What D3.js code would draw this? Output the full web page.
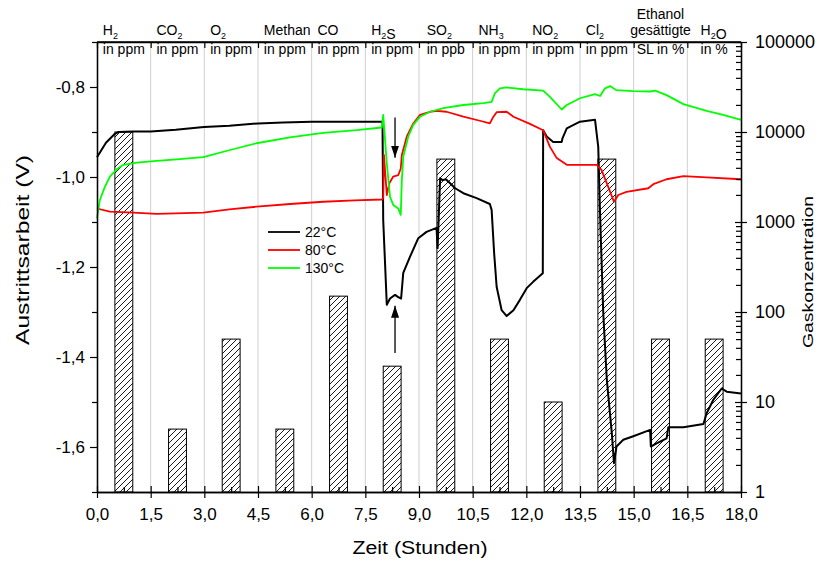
<!DOCTYPE html>
<html>
<head>
<meta charset="utf-8">
<script src="https://cdn.jsdelivr.net/npm/d3@7"></script>
<style>
body{margin:0;background:#fff;}
svg{display:block;font-family:"Liberation Sans",Arial,sans-serif;}
</style>
</head>
<body>
<svg id="chart" width="819" height="562"></svg>
<script>
// gas steps: one 1.5 h window each, the bar marks the exposure
const gasLabels=["H_2","CO_2","O_2","Methan","CO","H_2S","SO_2","NH_3","NO_2","Cl_2","Ethanol|gesättigte","H_2O"];
const gasUnits=["in ppm","in ppm","in ppm","in ppm","in ppm","in ppm","in ppb","in ppm","in ppm","in ppm","SL in %","in %"];
const barStart=[0.5,2,3.5,5,6.5,8,9.5,11,12.5,14,15.5,17];
const barConc=[10000,5,50,5,150,25,5000,50,10,5000,50,50];

const timeTicks=[0,1.5,3,4.5,6,7.5,9,10.5,12,13.5,15,16.5,18];
const voltTicks=[-1.6,-1.4,-1.2,-1.0,-0.8];
const voltMinor=[-1.7,-1.5,-1.3,-1.1,-0.9,-0.7];
const concTicks=[1,10,100,1000,10000,100000];

const seriesNames=["22°C","80°C","130°C"];
const seriesColors=["#000000","#ff0000","#00ff00"];

// [time h, work function V]
const s22=[[0,-0.956],[0.25,-0.924],[0.5,-0.904],[0.6,-0.9],[1.0,-0.899],[1.5,-0.899],[2.2,-0.895],[2.99,-0.889],[3.7,-0.886],[4.5,-0.881],[5.2,-0.879],[6.0,-0.877],[7.07,-0.877],[7.98,-0.877],
[8.0,-1.096],[8.1,-1.284],[8.19,-1.27],[8.33,-1.262],[8.42,-1.267],[8.5,-1.27],[8.56,-1.213],[8.75,-1.177],[8.98,-1.136],[9.21,-1.122],[9.49,-1.113],[9.52,-1.158],
[9.59,-1.003],[9.66,-1.007],[9.75,-1.005],[9.87,-1.014],[10.01,-1.025],[10.24,-1.036],[10.61,-1.047],[10.98,-1.06],[11.03,-1.073],[11.1,-1.169],[11.17,-1.244],[11.31,-1.296],[11.45,-1.309],
[11.64,-1.296],[11.82,-1.273],[12.01,-1.247],[12.19,-1.233],[12.46,-1.214],[12.47,-0.896],[12.57,-0.91],[12.75,-0.922],[12.99,-0.922],[13.01,-0.914],[13.13,-0.892],[13.5,-0.877],[13.92,-0.873],
[14.01,-0.933],[14.06,-1.08],[14.15,-1.302],[14.25,-1.451],[14.39,-1.57],[14.45,-1.636],[14.52,-1.599],[14.71,-1.584],[14.99,-1.576],[15.46,-1.562],[15.48,-1.599],[15.64,-1.592],[15.92,-1.581],
[15.97,-1.556],[16.39,-1.556],[16.95,-1.549],[17.04,-1.525],[17.22,-1.496],[17.46,-1.47],[17.6,-1.477],[18.0,-1.481]];
const s80=[[0,-1.07],[0.36,-1.077],[1.01,-1.079],[1.67,-1.082],[2.97,-1.079],[3.7,-1.072],[4.46,-1.066],[5.4,-1.06],[6.32,-1.055],[7.2,-1.052],[7.96,-1.05],[8.0,-1.047],[8.02,-0.951],[8.1,-1.04],
[8.17,-1.014],[8.28,-0.999],[8.42,-0.996],[8.49,-0.981],[8.52,-0.951],[8.66,-0.91],[8.84,-0.881],[9.03,-0.862],[9.31,-0.855],[9.49,-0.853],[9.77,-0.855],[10.24,-0.866],[10.7,-0.875],[10.98,-0.881],
[11.08,-0.866],[11.17,-0.856],[11.45,-0.855],[11.64,-0.866],[12.1,-0.882],[12.47,-0.896],[12.66,-0.933],[12.85,-0.958],[13.13,-0.973],[13.97,-0.973],[14.1,-0.984],[14.25,-1.014],[14.45,-1.055],
[14.57,-1.04],[14.8,-1.033],[15.41,-1.025],[15.55,-1.016],[15.92,-1.005],[16.39,-0.998],[17.04,-1.001],[18.0,-1.005]];
const s130=[[0,-1.092],[0.08,-1.051],[0.22,-1.022],[0.36,-0.999],[0.55,-0.983],[0.74,-0.973],[1.11,-0.968],[1.67,-0.964],[2.23,-0.961],[2.97,-0.956],[3.72,-0.94],[4.46,-0.925],[5.39,-0.912],
[6.32,-0.902],[7.26,-0.896],[7.96,-0.89],[8.0,-0.862],[8.1,-0.97],[8.19,-1.044],[8.28,-1.062],[8.42,-1.07],[8.49,-1.084],[8.52,-1.007],[8.56,-0.955],[8.7,-0.91],[8.84,-0.884],[9.03,-0.866],
[9.31,-0.855],[9.68,-0.847],[10.24,-0.84],[10.8,-0.836],[11.03,-0.833],[11.12,-0.814],[11.26,-0.803],[11.45,-0.801],[11.91,-0.805],[12.47,-0.808],[12.66,-0.822],[12.99,-0.85],[13.13,-0.84],
[13.5,-0.825],[13.92,-0.816],[14.06,-0.82],[14.2,-0.803],[14.34,-0.798],[14.52,-0.807],[14.99,-0.809],[15.46,-0.81],[15.6,-0.808],[15.92,-0.818],[16.39,-0.838],[17.04,-0.853],[17.5,-0.862],[18.0,-0.873]];

// the two arrows at the H2S step
const arrowTime=[8.33,8.33];
const arrowFrom=[-0.868,-1.391];
const arrowTo=[-0.957,-1.286];

const svg=d3.select("#chart");
const m={top:42,right:78,bottom:70,left:97};
const W=819,H=562;

const x=d3.scaleLinear().domain([0,18]).range([m.left,W-m.right]);
const y=d3.scaleLinear().domain([-1.7,-0.7]).range([H-m.bottom,m.top]);
const yR=d3.scaleLog().domain([1,100000]).range([H-m.bottom,m.top]);

const defs=svg.append("defs");
const pat=defs.append("pattern").attr("id","hatch").attr("patternUnits","userSpaceOnUse")
  .attr("width",6).attr("height",6);
pat.append("rect").attr("width",6).attr("height",6).attr("fill","#fff");
pat.append("path").attr("d","M0,6L6,0M-1.5,1.5L1.5,-1.5M4.5,7.5L7.5,4.5")
  .attr("stroke","#000").attr("stroke-width",0.9);
defs.append("marker").attr("id","head").attr("viewBox","0 0 12 8").attr("refX",12).attr("refY",4)
  .attr("markerWidth",12).attr("markerHeight",8).attr("markerUnits","userSpaceOnUse").attr("orient","auto")
  .append("path").attr("d","M0,0L12,4L0,8Z").attr("fill","#000");

// grid
svg.append("g").selectAll("line").data(timeTicks.slice(1,-1)).join("line")
  .attr("x1",d=>x(d)).attr("x2",d=>x(d)).attr("y1",m.top).attr("y2",H-m.bottom)
  .attr("stroke","#cfcfcf").attr("stroke-width",1);

// bars on log axis
svg.append("g").selectAll("rect").data(barStart).join("rect")
  .attr("x",d=>x(d)).attr("width",d=>x(d+0.5)-x(d))
  .attr("y",(d,i)=>yR(barConc[i])).attr("height",(d,i)=>yR(1)-yR(barConc[i]))
  .attr("fill","url(#hatch)").attr("stroke","#000").attr("stroke-width",1);

// curves
const line=d3.line().x(d=>x(d[0])).y(d=>y(d[1]));
[s22,s80,s130].forEach((s,i)=>{
  svg.append("path").datum(s).attr("d",line).attr("fill","none")
    .attr("stroke",seriesColors[i]).attr("stroke-width",i===0?2:1.8).attr("stroke-linejoin","round");
});

// arrows
svg.append("g").selectAll("line").data(arrowTime).join("line")
  .attr("x1",d=>x(d)).attr("x2",d=>x(d))
  .attr("y1",(d,i)=>y(arrowFrom[i])).attr("y2",(d,i)=>y(arrowTo[i]))
  .attr("stroke","#000").attr("stroke-width",1.3).attr("marker-end","url(#head)");

// axes
const comma=v=>v.toFixed(1).replace(".",",");
function styleAxis(g,fs){
  g.select(".domain").attr("stroke","#000").attr("stroke-width",1.3);
  g.selectAll(".tick line").attr("stroke","#000").attr("stroke-width",1.2);
  g.selectAll("text").attr("font-size",fs||17).attr("font-family","Liberation Sans, Arial, sans-serif").attr("fill","#000");
}
const gx=svg.append("g").attr("transform",`translate(0,${H-m.bottom})`)
  .call(d3.axisBottom(x).tickValues(timeTicks).tickFormat(comma).tickSize(6).tickSizeOuter(0).tickPadding(10));
gx.selectAll(".tick line").attr("y1",-6);
styleAxis(gx);
const gxm=svg.append("g").attr("transform",`translate(0,${H-m.bottom})`)
  .call(d3.axisBottom(x).tickValues(timeTicks.slice(0,-1).map(d=>d+0.75)).tickFormat("").tickSize(-5).tickSizeOuter(0));
styleAxis(gxm);
const gt=svg.append("g").attr("transform",`translate(0,${m.top})`)
  .call(d3.axisTop(x).tickValues(timeTicks).tickFormat("").tickSize(-6).tickSizeOuter(0));
styleAxis(gt);

const gy=svg.append("g").attr("transform",`translate(${m.left},0)`)
  .call(d3.axisLeft(y).tickValues(voltTicks).tickFormat(comma).tickSize(7).tickSizeOuter(0).tickPadding(5));
styleAxis(gy);
const gym=svg.append("g").attr("transform",`translate(${m.left},0)`)
  .call(d3.axisLeft(y).tickValues(voltMinor).tickFormat("").tickSize(5).tickSizeOuter(0));
styleAxis(gym);

const minorConc=[];
concTicks.slice(0,-1).forEach(c=>{for(let k=2;k<10;k++)minorConc.push(c*k);});
const gr=svg.append("g").attr("transform",`translate(${W-m.right},0)`)
  .call(d3.axisRight(yR).tickValues(concTicks).tickFormat(d3.format("d")).tickSize(6).tickSizeOuter(0).tickPadding(8));
gr.selectAll(".tick line").attr("x1",-6);
styleAxis(gr,18);
const grm=svg.append("g").attr("transform",`translate(${W-m.right},0)`)
  .call(d3.axisRight(yR).tickValues(minorConc).tickFormat("").tickSize(-5).tickSizeOuter(0));
styleAxis(grm);

// gas labels along the top
function rich(t,str){
  str.split(/(_.)/).filter(s=>s).forEach(p=>{
    if(p[0]==="_"){
      t.append("tspan").attr("font-size",9).attr("dy",4).text(p[1]);
      t.append("tspan").attr("dy",-4).text("");
    }else t.append("tspan").text(p);
  });
}
const gasG=svg.append("g").attr("font-size",14).attr("fill","#000");
gasLabels.forEach((name,i)=>{
  const cx=x(i*1.5+0.75);
  const u=gasG.append("text").attr("x",cx).attr("y",54).attr("text-anchor","middle").text(gasUnits[i]);
  const left=cx-u.node().getComputedTextLength()/2;
  const lines=name.split("|");
  lines.forEach((ln,j)=>{
    const t=gasG.append("text").attr("y",35-(lines.length-1-j)*16);
    if(lines.length>1)t.attr("x",cx).attr("text-anchor","middle");else t.attr("x",left);
    rich(t,ln);
  });
});

// legend
const lg=svg.append("g").attr("transform","translate(268,232)");
seriesNames.forEach((n,i)=>{
  lg.append("line").attr("x1",0).attr("x2",32).attr("y1",i*18).attr("y2",i*18)
    .attr("stroke",seriesColors[i]).attr("stroke-width",1.8);
  lg.append("text").attr("x",37).attr("y",i*18+5).attr("font-size",14).text(n);
});

// titles
svg.append("text").attr("x",420).attr("y",554).attr("text-anchor","middle")
  .attr("font-size",18).attr("textLength",135).attr("lengthAdjust","spacingAndGlyphs").text("Zeit (Stunden)");
svg.append("text").attr("transform","translate(29,250) rotate(-90)").attr("text-anchor","middle")
  .attr("font-size",19).attr("textLength",190).attr("lengthAdjust","spacingAndGlyphs").text("Austrittsarbeit (V)");
svg.append("text").attr("transform","translate(813,272) rotate(-90)").attr("text-anchor","middle")
  .attr("font-size",15).attr("textLength",152).attr("lengthAdjust","spacingAndGlyphs").text("Gaskonzentration");

// frame
svg.append("line").attr("x1",x(0)).attr("x2",x(18)).attr("y1",m.top).attr("y2",m.top).attr("stroke","#000").attr("stroke-width",1.3);
</script>
</body>
</html>
